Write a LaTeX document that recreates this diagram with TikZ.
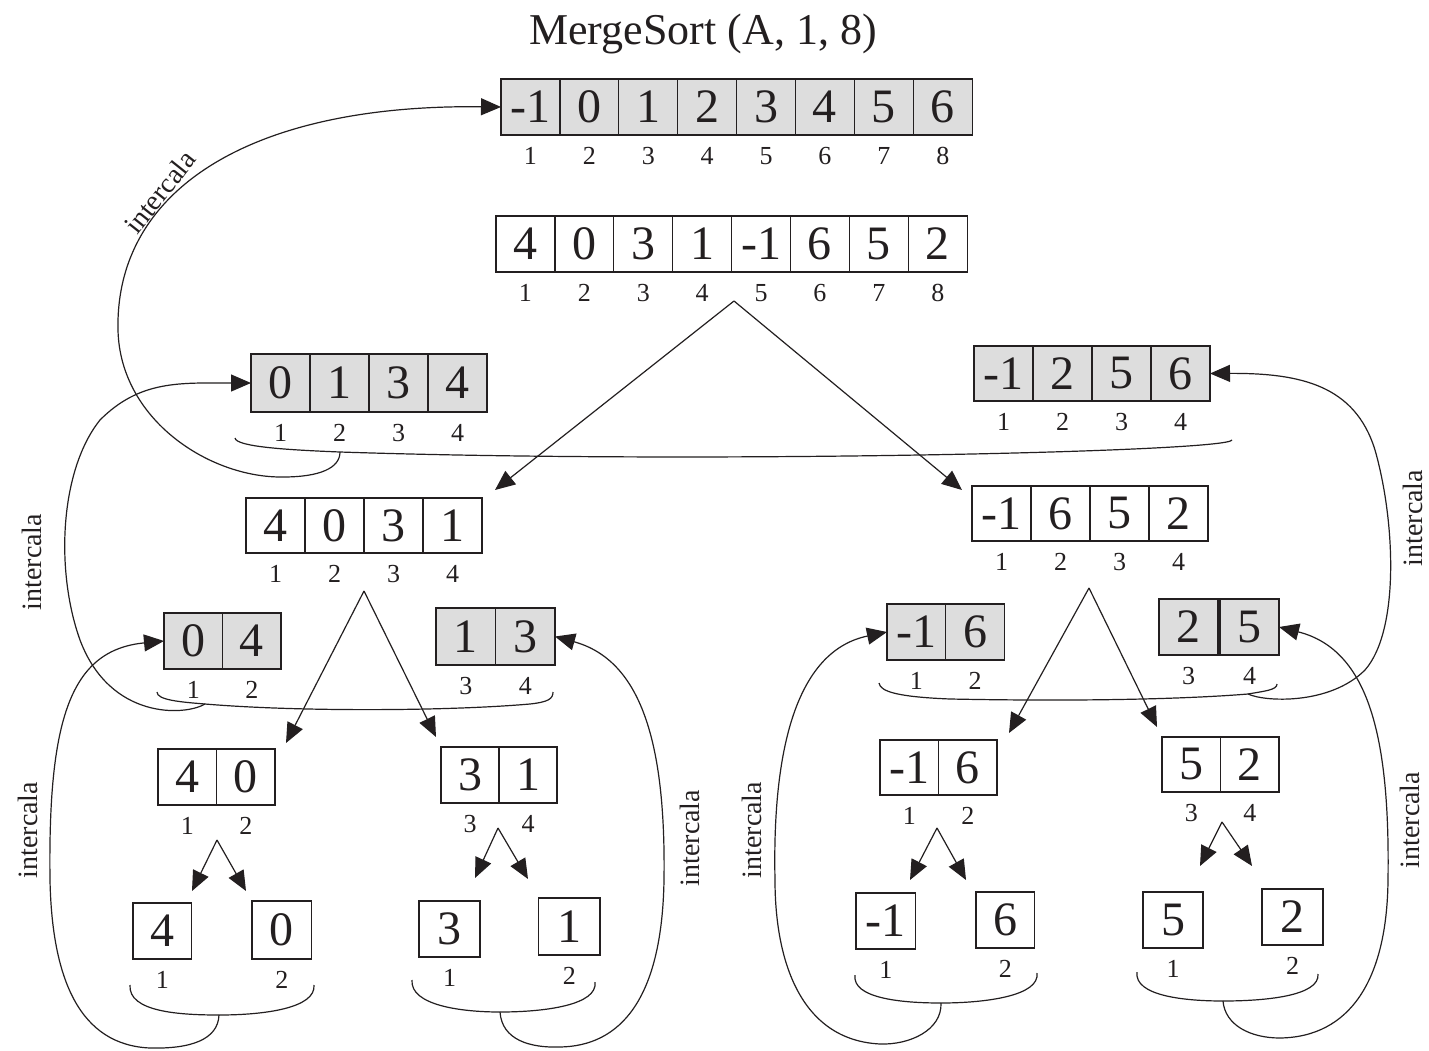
\documentclass[tikz,border=0pt]{standalone}
\usepackage{fontspec}
\setmainfont{Liberation Serif}
\usetikzlibrary{arrows.meta}

\definecolor{ink}{RGB}{35,31,32}
\definecolor{shade}{RGB}{221,221,221}

\newcommand\cellfont{\fontsize{48}{50}\selectfont}
\newcommand\idxfont{\fontsize{26}{28}\selectfont}
\newcommand\lblfont{\fontsize{28}{30}\selectfont}
\newcommand\ttlfont{\fontsize{44}{48}\selectfont}

\tikzset{
  cellbox/.style={draw=ink, line width=1.3pt, inner sep=0pt, outer sep=0pt, font=\cellfont, text=ink},
  sorted/.style={fill=shade},
  plain/.style={fill=white},
  idx/.style={font=\idxfont, text=ink, inner sep=0pt},
  lbl/.style={font=\lblfont, text=ink, inner sep=0pt},
  link/.style={draw=ink, line width=1.2pt},
  headed/.style={-{Triangle[length=20pt,width=17pt]}},
  split/.style={link, headed},
  merge/.style={link, headed},
  brace/.style={link},
}

% a row of cells: name, left x, top y, cell width, cell height, fill style, value/index list
\newcommand\drawrow[7]{%
  \foreach \v/\i [count=\k] in {#7} {%
    \node[cellbox, #6, minimum width=#4pt, minimum height=#5pt]
      (#1-\k) at ({#2+(\k-0.5)*#4},{#3+0.5*#5}) {\v};
    \node[idx] (#1-i\k) at ({#2+(\k-0.5)*#4},{#3+#5+21}) {\i};
  }%
}

\begin{document}
\begin{tikzpicture}[x=1pt,y=-1pt]
\useasboundingbox (0,0) rectangle (1429,1051);
\fill[white] (0,0) rectangle (1429,1051);

\node[font=\ttlfont, text=ink, inner sep=0pt] (ttl) at (703,34) {MergeSort (A, 1, 8)};

% whole array, sorted and original
\drawrow{As}{501}{79}{58.9}{56}{sorted}{-1/1,0/2,1/3,2/4,3/5,4/6,5/7,6/8}
\drawrow{Ao}{496}{216}{58.9}{56}{plain}{4/1,0/2,3/3,1/4,-1/5,6/6,5/7,2/8}

% halves
\drawrow{L1s}{251}{354}{59}{58}{sorted}{0/1,1/2,3/3,4/4}
\drawrow{R1s}{974}{346}{59}{55}{sorted}{-1/1,2/2,5/3,6/4}
\drawrow{L1o}{246}{498}{59}{55}{plain}{4/1,0/2,3/3,1/4}
\drawrow{R1o}{972}{486}{59}{55}{plain}{-1/1,6/2,5/3,2/4}

% quarters
\drawrow{L2a}{164}{613}{58.5}{56}{sorted}{0/1,4/2}
\drawrow{L2b}{436}{608}{59.5}{57}{sorted}{1/3,3/4}
\drawrow{R2a}{887}{604}{58.7}{56}{sorted}{-1/1,6/2}
\drawrow{R2b}{1159}{599}{59}{56}{sorted}{2/3}
\drawrow{R2c}{1220}{599}{59}{56}{sorted}{5/4}
\drawrow{L3a}{158}{749}{58.5}{56}{plain}{4/1,0/2}
\drawrow{L3b}{441}{747}{58}{56}{plain}{3/3,1/4}
\drawrow{R3a}{880}{740}{58.5}{55}{plain}{-1/1,6/2}
\drawrow{R3b}{1162}{737}{58.5}{55}{plain}{5/3,2/4}

% single cells
\drawrow{S1}{133}{903}{58.5}{56}{plain}{4/1}
\drawrow{S2}{252}{901}{59.5}{58}{plain}{0/2}
\drawrow{S3}{419}{901}{61}{56}{plain}{3/1}
\drawrow{S4}{538.5}{898}{61.5}{57}{plain}{1/2}
\drawrow{S5}{856}{893}{59.5}{56}{plain}{-1/1}
\drawrow{S6}{976}{892}{58.5}{56}{plain}{6/2}
\drawrow{S7}{1143}{892}{60}{56}{plain}{5/1}
\drawrow{S8}{1262}{889}{61}{56}{plain}{2/2}

% split arrows
\coordinate (apx0) at (734,301);
\coordinate (t0a) at (495,490); \coordinate (t0b) at (962,490);
\coordinate (apx1) at (364,591);
\coordinate (t1a) at (286,743); \coordinate (t1b) at (436,737);
\coordinate (apx2) at (1089,588);
\coordinate (t2a) at (1009,733); \coordinate (t2b) at (1157,727);
\coordinate (apx3) at (217,840);
\coordinate (t3a) at (192,891); \coordinate (t3b) at (246,891);
\coordinate (apx4) at (498,828);
\coordinate (t4a) at (475,878); \coordinate (t4b) at (528,879);
\coordinate (apx5) at (937,828);
\coordinate (t5a) at (910,880); \coordinate (t5b) at (966,880);
\coordinate (apx6) at (1222,822);
\coordinate (t6a) at (1200,866); \coordinate (t6b) at (1252,866);
\foreach \n in {0,...,6} {
  \draw[split] (apx\n) -- (t\n a);
  \draw[split] (apx\n) -- (t\n b);
}

% braces joining the halves
\coordinate (J0) at (340,452);
\draw[brace] (235,438) .. controls (236,447) and (290,450) .. (J0)
  .. controls (700,464) and (1228,452) .. (1232,440);
\coordinate (J2L) at (205,704);
\draw[brace] (157,692) .. controls (157,700) and (180,702) .. (J2L)
  .. controls (300,712) and (450,711) .. (530,704)
  .. controls (548,702) and (553,699) .. (553,692);
\coordinate (J2R) at (1248,694);
\draw[brace] (879,683) .. controls (880,692) and (900,697) .. (950,699)
  .. controls (1100,702) and (1200,698) .. (J2R)
  .. controls (1265,691) and (1277,690) .. (1277,684);
\coordinate (J3a) at (219,1015);
\draw[brace] (130,985) .. controls (128,1012) and (180,1015) .. (J3a)
  .. controls (265,1015) and (316,1008) .. (314,985);
\coordinate (J3b) at (500,1012);
\draw[brace] (412,980) .. controls (410,1005) and (460,1012) .. (J3b)
  .. controls (545,1012) and (598,1005) .. (595,982);
\coordinate (J3c) at (941,1003);
\draw[brace] (855,975) .. controls (852,998) and (900,1003) .. (J3c)
  .. controls (985,1003) and (1040,996) .. (1037,973);
\coordinate (J3d) at (1223,1001);
\draw[brace] (1137,972) .. controls (1134,996) and (1185,1001) .. (J3d)
  .. controls (1265,1001) and (1320,996) .. (1318,974);

% merge connectors
\draw[merge] (J0) .. controls (340,468) and (320,477) .. (283,477)
  .. controls (210,478) and (120,420) .. (118,330)
  .. controls (115,190) and (250,104) .. (As-1.west);
\draw[merge] (J2L) .. controls (185,716) and (110,720) .. (80,640)
  .. controls (55,570) and (60,470) .. (100,420)
  .. controls (140,380) and (180,383) .. (L1s-1.west);
\draw[merge] (J2R) .. controls (1265,702) and (1330,705) .. (1365,670)
  .. controls (1400,630) and (1395,520) .. (1375,450)
  .. controls (1355,385) and (1300,373) .. (R1s-4.east);
\draw[merge] (J3a) .. controls (218,1040) and (190,1049) .. (150,1048)
  .. controls (80,1045) and (52,980) .. (50,880)
  .. controls (48,720) and (70,650) .. (L2a-1.west);
\draw[merge] (J3b) .. controls (502,1040) and (530,1048) .. (560,1047)
  .. controls (620,1046) and (662,1000) .. (664,880)
  .. controls (666,740) and (640,660) .. (L2b-2.east);
\draw[merge] (J3c) .. controls (942,1030) and (910,1045) .. (880,1044)
  .. controls (800,1040) and (775,960) .. (775,880)
  .. controls (772,740) and (800,650) .. (R2a-1.west);
\draw[merge] (J3d) .. controls (1225,1025) and (1250,1038) .. (1280,1038)
  .. controls (1350,1037) and (1387,980) .. (1388,880)
  .. controls (1390,740) and (1370,650) .. (R2c-1.east);

% merge labels
\node[lbl, rotate=51.5] (m0) at (160,192) {intercala};
\node[lbl, rotate=90] (m1) at (32,562) {intercala};
\node[lbl, rotate=90] (m2) at (1413,518) {intercala};
\node[lbl, rotate=90] (m3) at (28,830) {intercala};
\node[lbl, rotate=90] (m4) at (690,838) {intercala};
\node[lbl, rotate=90] (m5) at (752,830) {intercala};
\node[lbl, rotate=90] (m6) at (1410,820) {intercala};
\end{tikzpicture}
\end{document}
